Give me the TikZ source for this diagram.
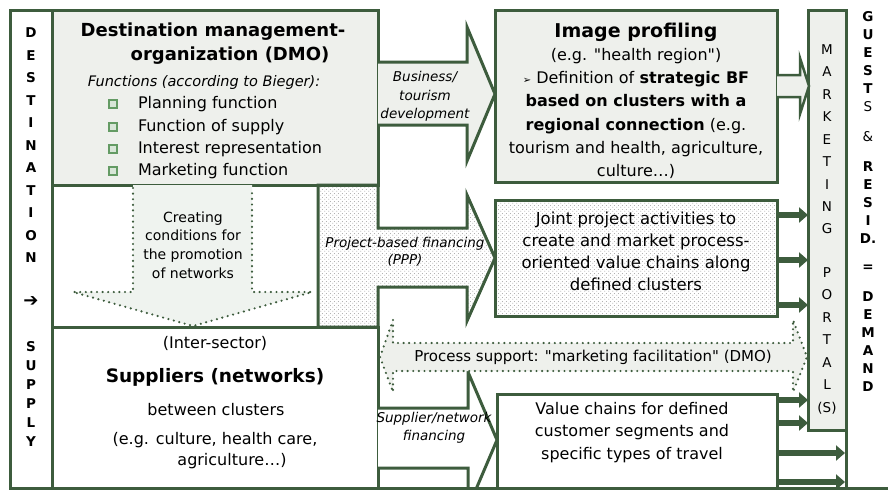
\documentclass[tikz,border=0pt]{standalone}
\usepackage{fontspec}
\setmainfont{DejaVu Sans}[Ligatures=TeXOff]
\usetikzlibrary{patterns,arrows.meta}
\definecolor{dg}{RGB}{61,92,61}
\definecolor{lf}{RGB}{238,240,236}
\definecolor{lf2}{RGB}{239,243,239}
\definecolor{bul}{RGB}{100,155,100}
\definecolor{dotc}{RGB}{150,150,150}
\pgfdeclarepatternformonly{stip}{\pgfqpoint{0pt}{0pt}}{\pgfqpoint{4pt}{4pt}}{\pgfqpoint{4pt}{4pt}}{%
 \pgfpathcircle{\pgfqpoint{1pt}{1pt}}{0.6pt}%
 \pgfpathcircle{\pgfqpoint{3pt}{3pt}}{0.6pt}%
 \pgfusepath{fill}}
\begin{document}
\begin{tikzpicture}[x=1pt,y=-1pt,
 frame/.style={draw=dg,line width=3pt},
 boxn/.style={frame,rectangle,inner sep=0pt,outer sep=0pt,anchor=north west},
 dotline/.style={draw=dg,line width=2.4pt,line cap=round,dash pattern=on 0pt off 5.6pt},
 thk/.style={draw=dg,line width=6pt,-{Triangle[length=9pt,width=15pt]}},
 txt/.style={inner sep=0pt,outer sep=0pt,align=center},
 bsq/.style={draw=bul,fill=bul!25,line width=1.8pt,minimum size=8pt,inner sep=0pt},
 f16/.style={font=\fontsize{16}{22.5}\selectfont},
 lcl/.style={txt,font=\bfseries\fontsize{13.5}{15}\selectfont},
 pcl/.style={txt,font=\fontsize{13.5}{15}\selectfont},
 gcl/.style={txt,font=\bfseries\fontsize{13.5}{15}\selectfont},
 itl/.style={txt,font=\itshape\fontsize{13.5}{18.5}\selectfont}
]
\fill[white] (0,0) rectangle (888,491);
\useasboundingbox (0,0) rectangle (888,491);

% boxes
\node[boxn,fill=lf,minimum width=326pt,minimum height=175pt] (dmo) at (52,10) {};
\node[boxn,minimum width=42pt,minimum height=478pt] (left) at (10,10) {};
\node[boxn,minimum width=326pt,minimum height=161pt] (sup) at (52,327) {};
\node[boxn,fill=lf,minimum width=282pt,minimum height=172pt] (img) at (495,10) {};
\node[boxn,pattern=stip,pattern color=dotc,minimum width=282pt,minimum height=116pt] (joint) at (495,200) {};
\node[boxn,minimum width=280pt,minimum height=94pt] (val) at (497,394) {};
\node[boxn,fill=lf,minimum width=38pt,minimum height=420pt] (portal) at (808,10) {};
\coordinate (gl) at (845,0);

% creating conditions dotted arrow
\fill[lf2] (133,185) -- (133,292) -- (73,292) -- (193,326) -- (312,292) -- (252,292) -- (252,185) -- cycle;
\draw[dotline] (133,188) -- (133,292) -- (73,292) -- (193,326) -- (312,292) -- (252,292) -- (252,188);

% business arrow
\draw[frame,fill=lf] (378,62) -- (467,62) -- (467,27) -- (495,94) -- (467,161) -- (467,125) -- (378,125);

% project arrow
\draw[frame,pattern=stip,pattern color=dotc] (318,185) -- (378,185) -- (378,228) -- (467,228) -- (467,195) -- (495,258) -- (467,321) -- (467,287) -- (378,287) -- (378,327) -- (318,327) -- cycle;

% supplier arrow
\begin{scope}
\clip (0,0) rectangle (888,488);
\draw[frame,fill=white] (378,408) -- (468,408) -- (468,372) -- (497,440) -- (468,508) -- (468,468) -- (378,468);
\end{scope}

% outer lines
\draw[frame] (10,488) -- (888,488);
\draw[frame] (846,10) -- (846,488);

% process support double arrow
\fill[lf] (380,357) -- (393,320) -- (393,343) -- (793,343) -- (793,320) -- (807,357) -- (793,392) -- (793,371) -- (393,371) -- (393,392) -- cycle;
\draw[dotline] (380,357) -- (393,320) -- (393,343) -- (793,343) -- (793,320) -- (807,357) -- (793,392) -- (793,371) -- (393,371) -- (393,392) -- cycle;

% arrows to portal
\draw[frame,fill=lf,line width=2.5pt] (777,75) -- (800,75) -- (800,58) -- (809,86) -- (800,114) -- (800,97) -- (777,97);
\foreach \yy [count=\i] in {215,260,305}
  \draw[thk] (joint.east |- 0,\yy) -- (portal.west |- 0,\yy);
\foreach \yy [count=\i] in {400,423}
  \draw[thk] (val.east |- 0,\yy) -- (portal.west |- 0,\yy);
\foreach \yy [count=\i] in {453,482}
  \draw[thk] (val.east |- 0,\yy) -- (gl |- 0,\yy);

% DMO text
\node[txt,font=\bfseries\fontsize{18}{22}\selectfont] (dmot1) at (213,32) {Destination management-};
\node[txt,font=\bfseries\fontsize{18}{22}\selectfont] (dmot2) at (230,56) {organization (DMO)};
\node[txt,font=\itshape\fontsize{14.5}{17}\selectfont] (fun) at (204,82) {Functions (according to Bieger):};
\foreach \tx/\yy [count=\i] in {Planning function/104,Function of supply/127,Interest representation/149,Marketing function/171}{
  \node[bsq] (b\i) at (113,\yy) {};
  \node[txt,f16,anchor=west] (it\i) at (138,\yy) {\tx};
}

% image profiling
\node[txt,font=\bfseries\fontsize{19}{22}\selectfont] (imgt) at (636,32) {Image profiling};
\node[txt,font=\fontsize{16}{23.3}\selectfont] (imgb) at (636,113.5) {(e.g. "health region")\\{\fontsize{10}{10}\selectfont ➢} Definition of \textbf{strategic BF}\\\textbf{based on clusters with a}\\\textbf{regional connection} (e.g.\\tourism and health, agriculture,\\culture…)};

% joint
\node[txt,font=\fontsize{16.5}{22}\selectfont] (jointt) at (636,251) {Joint project activities to\\create and market process-\\oriented value chains along\\defined clusters};

% value chains
\node[txt,font=\fontsize{16}{22.5}\selectfont] (valt) at (632,432.5) {Value chains for defined\\customer segments and\\specific types of travel};

% suppliers
\node[txt,f16] (s1) at (215,343) {(Inter-sector)};
\node[txt,font=\bfseries\fontsize{18.5}{22}\selectfont] (s2) at (215,377) {Suppliers (networks)};
\node[txt,f16] (s3) at (216,410) {between clusters};
\node[txt,f16] (s4) at (215,440) {(e.g. culture, health care,};
\node[txt,f16] (s5) at (232,461) {agriculture…)};

% creating text
\node[txt,font=\fontsize{14}{18.7}\selectfont] (crt) at (193,245) {Creating\\conditions for\\the promotion\\of networks};

% process text
\node[txt,font=\fontsize{15}{18}\selectfont] (proc) at (593,357) {Process support: "marketing facilitation" (DMO)};

% arrow labels
\node[itl] (bus) at (425,96.5) {Business/\\tourism\\development};
\node[itl,font=\itshape\fontsize{13.5}{17}\selectfont] (prj) at (405,251.5) {Project-based financing\\(PPP)};
\node[itl,font=\itshape\fontsize{13.5}{18}\selectfont] (spl) at (434,428) {Supplier/network\\financing};

% left column
\foreach \ch [count=\i from 0] in {D,E,S,T,I,N,A,T,I,O,N}
  \node[lcl] (dn\i) at (31,{33+22.5*\i}) {\ch};
\node[txt,font=\bfseries\fontsize{18}{18}\selectfont] (darr) at (31,302) {➔};
\foreach \ch [count=\i from 0] in {S,U,P,P,L,Y}
  \node[lcl] (sp\i) at (31,{347+19*\i}) {\ch};

% portal letters
\foreach \ch/\yy [count=\i] in {M/50,A/72,R/95,K/117,E/140,T/162,I/185,N/207,G/229,P/273,O/295,R/318,T/340,A/363,L/385,(S)/408}
  \node[pcl] (p\i) at (827,\yy) {\ch};

% guests letters
\foreach \ch/\yy [count=\i] in {G/17,U/35,E/53,S/71,T/89,R/167,E/185,S/203,I/221,D./239,=/268,D/297,E/315,M/333,A/351,N/369,D/387}
  \node[gcl] (g\i) at (868,\yy) {\ch};
\node[pcl] (gs) at (868,107) {S};
\node[pcl] (gamp) at (868,137) {\&};
\end{tikzpicture}
\end{document}
